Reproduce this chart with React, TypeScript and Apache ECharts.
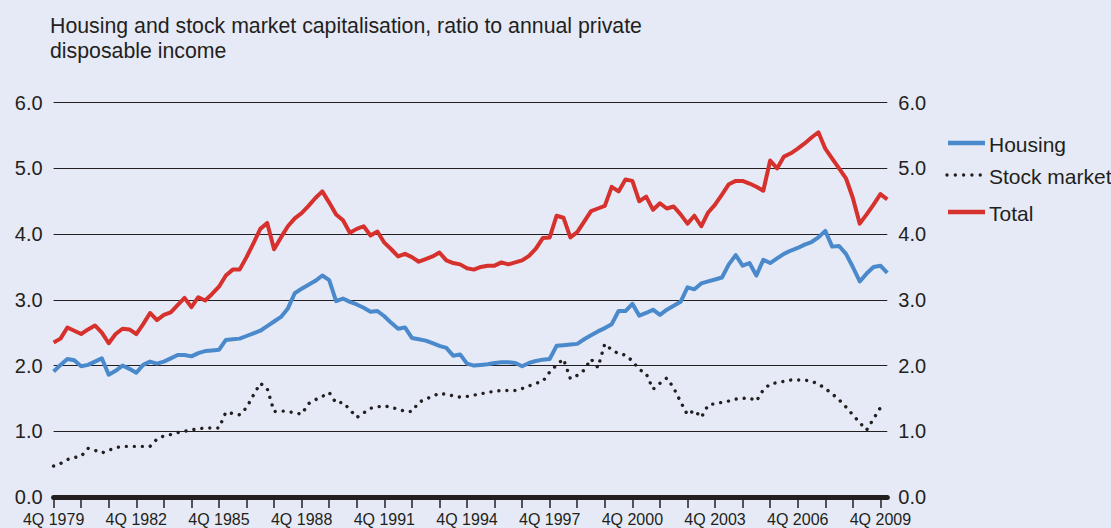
import React, { useEffect, useRef } from "react";
import * as echarts from "echarts";

const FONT = "'Liberation Sans', Arial, Helvetica, sans-serif";
const TEXT = "#231F20";
const BLUE = "#4A89CB";
const RED = "#D7312E";
const BG = "#E6EAF6";

const titleText =
  "Housing and stock market capitalisation, ratio to annual private\ndisposable income";

// Quarterly categories: 4Q 1979 … 1Q 2010
const categories: string[] = ["4Q 1979"];
for (let y = 1980; y <= 2009; y++) {
  for (let q = 1; q <= 4; q++) categories.push(`${q}Q ${y}`);
}
categories.push("1Q 2010");

const yTicks = [0, 1, 2, 3, 4, 5, 6];

const housing = [
  1.91, 2.01, 2.10, 2.08, 1.99, 2.01, 2.06, 2.11, 1.86, 1.92,
  2.00, 1.95, 1.89, 2.01, 2.06, 2.03, 2.06, 2.11, 2.16, 2.16,
  2.14, 2.19, 2.22, 2.23, 2.24, 2.39, 2.40, 2.41, 2.45, 2.49,
  2.53, 2.60, 2.67, 2.74, 2.87, 3.10, 3.17, 3.23, 3.29, 3.37,
  3.30, 2.98, 3.02, 2.97, 2.93, 2.88, 2.82, 2.83, 2.75, 2.65,
  2.56, 2.58, 2.42, 2.40, 2.38, 2.34, 2.30, 2.27, 2.15, 2.17,
  2.03, 2.00, 2.01, 2.02, 2.04, 2.05, 2.05, 2.04, 1.99, 2.04,
  2.07, 2.09, 2.10, 2.30, 2.31, 2.32, 2.33, 2.40, 2.46, 2.52,
  2.57, 2.63, 2.83, 2.83, 2.94, 2.76, 2.80, 2.85, 2.77, 2.85,
  2.91, 2.97, 3.19, 3.16, 3.25, 3.28, 3.31, 3.34, 3.54, 3.68,
  3.52, 3.56, 3.37, 3.61, 3.56, 3.63, 3.70, 3.75, 3.79, 3.84,
  3.88, 3.95, 4.05, 3.81, 3.82, 3.70, 3.50, 3.28, 3.40, 3.50,
  3.52, 3.41,
];

const stockMarket = [
  0.47, 0.51, 0.57, 0.60, 0.62, 0.74, 0.71, 0.67, 0.71, 0.75,
  0.77, 0.77, 0.77, 0.77, 0.77, 0.88, 0.93, 0.95, 0.98, 1.00,
  1.02, 1.04, 1.05, 1.05, 1.05, 1.29, 1.27, 1.25, 1.36, 1.55,
  1.73, 1.65, 1.30, 1.31, 1.30, 1.28, 1.26, 1.42, 1.48, 1.53,
  1.59, 1.43, 1.44, 1.33, 1.21, 1.28, 1.35, 1.37, 1.39, 1.36,
  1.34, 1.30, 1.30, 1.44, 1.49, 1.53, 1.58, 1.56, 1.54, 1.52,
  1.53, 1.55, 1.57, 1.59, 1.61, 1.62, 1.62, 1.62, 1.65, 1.69,
  1.73, 1.76, 1.90, 2.01, 2.10, 1.80, 1.85, 1.93, 2.10, 1.97,
  2.33, 2.24, 2.18, 2.16, 2.07, 1.94, 1.88, 1.64, 1.73, 1.81,
  1.66, 1.45, 1.25, 1.32, 1.21, 1.40, 1.42, 1.44, 1.46, 1.49,
  1.50, 1.51, 1.46, 1.63, 1.72, 1.74, 1.76, 1.78, 1.78, 1.78,
  1.76, 1.72, 1.65, 1.57, 1.48, 1.37, 1.25, 1.13, 1.02, 1.19,
  1.36, null,
];

const total = [
  2.35, 2.41, 2.58, 2.53, 2.48, 2.55, 2.61, 2.50, 2.34, 2.48,
  2.56, 2.55, 2.48, 2.63, 2.80, 2.69, 2.77, 2.81, 2.92, 3.03,
  2.89, 3.04, 2.99, 3.09, 3.20, 3.37, 3.46, 3.46, 3.65, 3.86,
  4.08, 4.17, 3.77, 3.95, 4.12, 4.24, 4.32, 4.43, 4.55, 4.65,
  4.48, 4.30, 4.21, 4.02, 4.08, 4.12, 3.98, 4.04, 3.87, 3.77,
  3.66, 3.70, 3.65, 3.58, 3.62, 3.66, 3.72, 3.60, 3.56, 3.54,
  3.48, 3.46, 3.50, 3.52, 3.52, 3.57, 3.54, 3.57, 3.60, 3.67,
  3.78, 3.94, 3.95, 4.28, 4.25, 3.95, 4.03, 4.19, 4.35, 4.39,
  4.43, 4.72, 4.65, 4.83, 4.81, 4.50, 4.57, 4.37, 4.47, 4.39,
  4.42, 4.30, 4.16, 4.28, 4.12, 4.33, 4.45, 4.60, 4.76, 4.81,
  4.81, 4.77, 4.72, 4.66, 5.12, 5.00, 5.18, 5.23, 5.30, 5.38,
  5.47, 5.55, 5.30, 5.15, 5.00, 4.85, 4.55, 4.16, 4.30, 4.45,
  4.61, 4.53,
];

const legendItems = [
  { name: "Housing", color: BLUE, dotted: false, y: 143 },
  { name: "Stock market", color: TEXT, dotted: true, y: 175 },
  { name: "Total", color: RED, dotted: false, y: 212 },
];

export default function App() {
  const ref = useRef<HTMLDivElement>(null);

  useEffect(() => {
    if (!ref.current) return;
    const chart = echarts.init(ref.current, undefined, { renderer: "svg" });

    const yAxisCommon = {
      type: "value" as const,
      min: yTicks[0],
      max: yTicks[yTicks.length - 1],
      interval: 1,
      axisLine: { show: false },
      axisTick: { show: false },
      axisLabel: {
        formatter: (v: number) => v.toFixed(1),
        fontSize: 20,
        color: TEXT,
        fontFamily: FONT,
        margin: 11,
      },
    };

    const graphic: any[] = [];
    legendItems.forEach((it) => {
      graphic.push({
        type: "line",
        shape: it.dotted
          ? { x1: 947, y1: it.y, x2: 981, y2: it.y }
          : { x1: 948, y1: it.y, x2: 985, y2: it.y },
        style: it.dotted
          ? { stroke: it.color, lineWidth: 3.4, lineDash: [0.01, 8.3], lineCap: "round" }
          : { stroke: it.color, lineWidth: 4.5 },
      });
      graphic.push({
        type: "text",
        x: 989,
        y: it.y + 1,
        style: {
          text: it.name,
          fill: TEXT,
          font: `21px ${FONT}`,
          align: "left",
          verticalAlign: "middle",
        },
      });
    });

    chart.setOption({
      animation: false,
      backgroundColor: BG,
      textStyle: { fontFamily: FONT },
      title: {
        text: titleText,
        left: 45,
        top: 8,
        textStyle: {
          fontSize: 21.3,
          fontWeight: "normal",
          color: TEXT,
          lineHeight: 25,
          fontFamily: FONT,
        },
      },
      grid: { left: 53.6, right: 223.7, top: 102.7, bottom: 31, containLabel: false },
      xAxis: {
        type: "category",
        data: categories,
        boundaryGap: false,
        axisLine: { lineStyle: { color: TEXT, width: 5 } },
        axisTick: { interval: 3, length: 11, lineStyle: { color: TEXT, width: 1.5 } },
        axisLabel: {
          interval: 11,
          margin: 14,
          fontSize: 16,
          color: TEXT,
          fontFamily: FONT,
        },
        splitLine: { show: false },
      },
      yAxis: [
        {
          ...yAxisCommon,
          position: "left",
          splitLine: { show: true, lineStyle: { color: TEXT, width: 1.2 } },
        },
        {
          ...yAxisCommon,
          position: "right",
          splitLine: { show: false },
        },
      ],
      series: [
        {
          name: "Housing",
          type: "line",
          data: housing,
          showSymbol: false,
          lineStyle: { color: BLUE, width: 4, join: "round" },
          z: 3,
        },
        {
          name: "Stock market",
          type: "line",
          data: stockMarket,
          showSymbol: false,
          lineStyle: { color: TEXT, width: 3.4, type: [0.01, 8], cap: "round" },
          z: 3,
        },
        {
          name: "Total",
          type: "line",
          data: total,
          showSymbol: false,
          lineStyle: { color: RED, width: 4, join: "round" },
          z: 4,
        },
      ],
      graphic,
    });

    return () => chart.dispose();
  }, []);

  return (
    <div
      ref={ref}
      style={{ position: "fixed", left: 0, top: 0, width: 1111, height: 528 }}
    />
  );
}
